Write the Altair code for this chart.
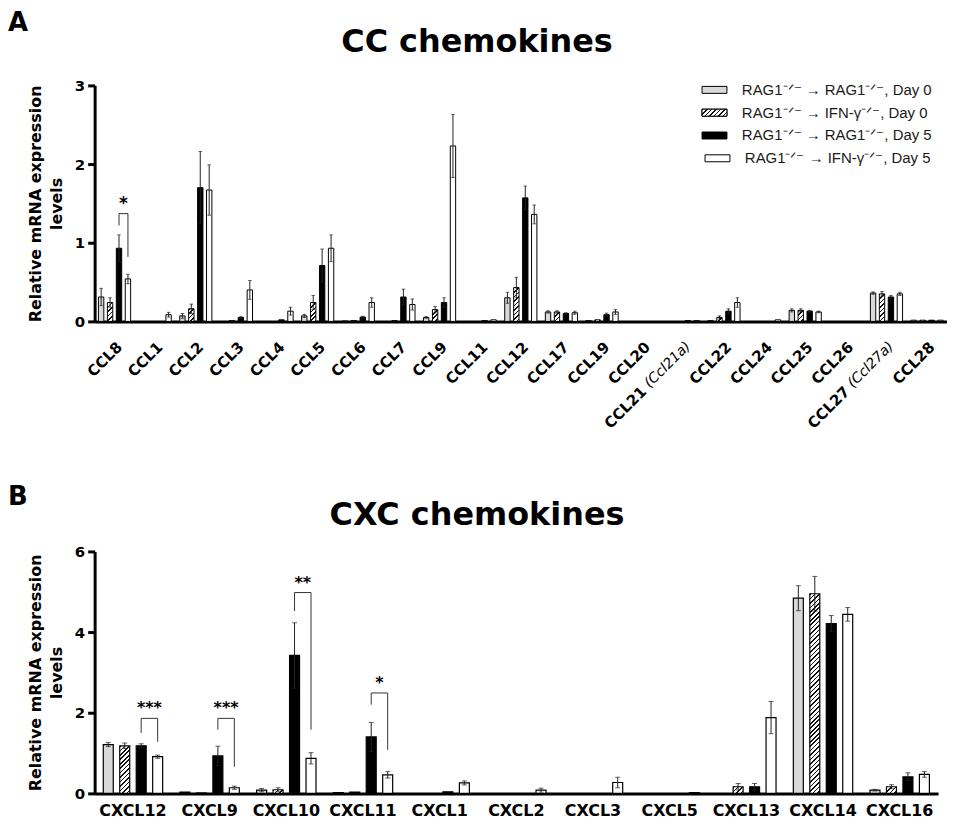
import altair as alt
import pandas as pd

# ---------------- data ----------------
series_labels = [
    "RAG1⁻ᐟ⁻ → RAG1⁻ᐟ⁻, Day 0",
    "RAG1⁻ᐟ⁻ → IFN-γ⁻ᐟ⁻, Day 0",
    "RAG1⁻ᐟ⁻ → RAG1⁻ᐟ⁻, Day 5",
    "RAG1⁻ᐟ⁻ → IFN-γ⁻ᐟ⁻, Day 5",
]

genes_A = ["CCL8", "CCL1", "CCL2", "CCL3", "CCL4", "CCL5", "CCL6", "CCL7", "CCL9",
           "CCL11", "CCL12", "CCL17", "CCL19", "CCL20", "CCL21 (Ccl21a)", "CCL22",
           "CCL24", "CCL25", "CCL26", "CCL27 (Ccl27a)", "CCL28"]
gray_A = [0.31, 0, 0.07, 0, 0, 0.07, 0.005, 0, 0.05, 0, 0.30, 0.12, 0.01, 0, 0, 0.01, 0, 0.14, 0, 0.36, 0.015]
hatch_A = [0.24, 0, 0.16, 0.01, 0, 0.24, 0.01, 0.01, 0.15, 0, 0.43, 0.12, 0.02, 0, 0, 0.05, 0, 0.14, 0, 0.35, 0.015]
black_A = [0.93, 0, 1.70, 0.05, 0.02, 0.71, 0.055, 0.31, 0.24, 0.01, 1.57, 0.10, 0.085, 0, 0.01, 0.13, 0, 0.13, 0, 0.31, 0.015]
white_A = [0.54, 0.085, 1.67, 0.40, 0.13, 0.93, 0.24, 0.215, 2.23, 0.02, 1.36, 0.11, 0.12, 0, 0.01, 0.24, 0.02, 0.12, 0, 0.35, 0.015]
gray_A_err = [0.11, 0, 0.03, 0, 0, 0.02, 0, 0, 0.01, 0, 0.07, 0.015, 0, 0, 0, 0, 0, 0.02, 0, 0.015, 0]
hatch_A_err = [0.06, 0, 0.06, 0, 0, 0.09, 0, 0, 0.04, 0, 0.13, 0.015, 0, 0, 0, 0.02, 0, 0.02, 0, 0.03, 0]
black_A_err = [0.17, 0, 0.46, 0.01, 0, 0.21, 0.01, 0.10, 0.06, 0, 0.15, 0.01, 0.02, 0, 0, 0.03, 0, 0.01, 0, 0.02, 0]
white_A_err = [0.06, 0.03, 0.32, 0.12, 0.05, 0.17, 0.06, 0.07, 0.40, 0, 0.12, 0.02, 0.03, 0, 0, 0.06, 0, 0.01, 0, 0.02, 0]

genes_B = ["CXCL12", "CXCL9", "CXCL10", "CXCL11", "CXCL1", "CXCL2", "CXCL3", "CXCL5",
           "CXCL13", "CXCL14", "CXCL16"]
gray_B = [1.21, 0.03, 0.08, 0.02, 0, 0, 0, 0, 0, 4.84, 0.08]
hatch_B = [1.18, 0.01, 0.09, 0.03, 0, 0, 0, 0, 0.165, 4.95, 0.165]
black_B = [1.18, 0.93, 3.42, 1.40, 0.04, 0, 0, 0, 0.165, 4.21, 0.41]
white_B = [0.91, 0.14, 0.87, 0.46, 0.26, 0.08, 0.27, 0.02, 1.88, 4.44, 0.47]
gray_B_err = [0.05, 0, 0.04, 0, 0, 0, 0, 0, 0, 0.31, 0.02]
hatch_B_err = [0.07, 0, 0.05, 0, 0, 0, 0, 0, 0.08, 0.43, 0.05]
black_B_err = [0.05, 0.24, 0.81, 0.36, 0, 0, 0, 0, 0.08, 0.20, 0.10]
white_B_err = [0.04, 0.04, 0.14, 0.08, 0.05, 0.05, 0.13, 0, 0.40, 0.17, 0.07]

# significance brackets: gene, bracket top, left-leg bottom (black bar), right-leg bottom (white bar)
brk_A_gene = ["CCL8"]
brk_A_top = [1.37]
brk_A_left = [1.22]
brk_A_right = [0.82]
brk_A_txt = ["*"]

brk_B_gene = ["CXCL12", "CXCL9", "CXCL10", "CXCL11"]
brk_B_top = [1.86, 1.86, 4.98, 2.49]
brk_B_left = [1.50, 1.58, 4.52, 2.20]
brk_B_right = [1.28, 0.66, 1.58, 1.08]
brk_B_txt = ["***", "***", "**", "*"]

FONT = "DejaVu Sans"
FILL_RANGE = ["#d9d9d9", "#ffffff", "#000000", "#ffffff"]


def long_df(genes, means, errs):
    rows = []
    for s, (m, e) in enumerate(zip(means, errs)):
        for g, mv, ev in zip(genes, m, e):
            rows.append(dict(gene=g, s=s, mean=mv, err=ev,
                             lo=max(mv - ev, 0.0), hi=mv + ev))
    return pd.DataFrame(rows)


def hatch(w, h, d=4.5, frac=0.35):
    w = max(w, 0.5)
    h = max(h, 0.5)
    n = (w + h) / d
    stops = [{"offset": 0, "color": "#ffffff"}]
    k = 0
    while True:
        a = k / n
        if a >= 1:
            break
        b = min((k + frac) / n, 1)
        stops += [{"offset": round(a, 5), "color": "#ffffff"},
                  {"offset": round(a, 5), "color": "#111111"},
                  {"offset": round(b, 5), "color": "#111111"},
                  {"offset": round(b, 5), "color": "#ffffff"}]
        k += 1
    stops.append({"offset": 1, "color": "#ffffff"})
    s2 = w * w + h * h
    return {"gradient": "linear", "x1": 0, "y1": 0,
            "x2": round((w + h) * w / s2, 5), "y2": round((w + h) * h / s2, 5),
            "stops": stops}


def brackets_df(gene, top, left, right):
    rows = []
    for i, (g, t, l, r) in enumerate(zip(gene, top, left, right)):
        rows += [dict(bid=i, gene=g, s=2, v=l, o=0), dict(bid=i, gene=g, s=2, v=t, o=1),
                 dict(bid=i, gene=g, s=3, v=t, o=2), dict(bid=i, gene=g, s=3, v=r, o=3)]
    return pd.DataFrame(rows)


def panel(genes, df, W, H, ymax, yvals, pi, po, pi2, po2, cap, stroke_w,
          xaxis, title, letter, title_y, letter_y, brk, brk_txt, star_size,
          italic=None, legend=False):
    n = len(genes)
    step = W / (n - pi + 2 * po)
    band = step * (1 - pi)
    sub = band / (4 - pi2 + 2 * po2)
    barw = sub * (1 - pi2)

    xsc = alt.Scale(domain=genes, paddingInner=pi, paddingOuter=po)
    ysc = alt.Scale(domain=[0, ymax], nice=False, zero=True)
    yaxis = alt.Axis(values=yvals, format="d", grid=False, domainWidth=3, domainColor="black",
                     tickWidth=3, tickSize=7, tickColor="black", labelFont=FONT,
                     labelFontWeight="bold", labelFontSize=15, labelColor="black",
                     labelPadding=3, title=["Relative mRNA expression", "levels"],
                     titleFont=FONT, titleFontWeight="bold", titleFontSize=16,
                     titleColor="black", titlePadding=10, titleLineHeight=21)

    def X():
        return alt.X("gene:N", scale=xsc, axis=xaxis, title=None)

    def Y(f):
        return alt.Y(f, type="quantitative", scale=ysc, axis=yaxis)

    xoff = alt.XOffset("s:N", scale=alt.Scale(domain=[0, 1, 2, 3], paddingInner=pi2,
                                              paddingOuter=po2))
    fill_sc = alt.Scale(domain=[0, 1, 2, 3], range=FILL_RANGE)

    d_bars = df[(df.s != 1) & (df["mean"] > 0)]
    bars = alt.Chart(d_bars).mark_bar(stroke="black", strokeWidth=stroke_w).encode(
        x=X(), xOffset=xoff, y=Y("mean"), fill=alt.Fill("s:N", scale=fill_sc, legend=None))

    d_h = df[(df.s == 1) & (df["mean"] > 0)]
    conds = []
    for g, m in zip(d_h.gene, d_h["mean"]):
        conds.append({"test": "datum.gene === '%s'" % g,
                      "value": hatch(barw, m * H / ymax)})
    hbars = alt.Chart(d_h).mark_bar(stroke="black", strokeWidth=stroke_w).encode(
        x=X(), xOffset=xoff, y=Y("mean"),
        fill=alt.FillValue(value="#ffffff", condition=conds))

    d_e = df[df.err > 0]
    rules = alt.Chart(d_e).mark_rule(color="#222222", strokeWidth=1).encode(
        x=X(), xOffset=xoff, y=Y("lo"), y2=alt.Y2("hi"))
    caps = alt.Chart(d_e).transform_fold(["lo", "hi"], as_=["k", "v"]).mark_tick(
        orient="horizontal", size=cap, thickness=1, color="#222222").encode(
        x=X(), xOffset=xoff, y=Y("v"))

    bdf = brackets_df(*brk)
    blines = alt.Chart(bdf).mark_line(color="#333333", strokeWidth=1).encode(
        x=X(), xOffset=xoff, y=Y("v"), detail="bid:N", order="o:Q")
    sdf = pd.DataFrame({"gene": brk[0], "top": brk[1], "txt": brk_txt, "s": 2})
    stars = alt.Chart(sdf).mark_text(font=FONT, fontWeight="bold", fontSize=star_size,
                                     align="center", baseline="alphabetic", dx=sub / 2, dy=-5,
                                     color="black").encode(
        x=X(), xOffset=xoff, y=Y("top"), text="txt:N")

    tdf = pd.DataFrame({"t": [title]})
    ttl = alt.Chart(tdf).mark_text(font=FONT, fontWeight="bold", fontSize=32, align="center",
                                   baseline="alphabetic", color="black").encode(
        x=alt.value(384), y=alt.value(title_y), text="t:N")
    ldf = pd.DataFrame({"t": [letter]})
    let = alt.Chart(ldf).mark_text(font=FONT, fontWeight="bold", fontSize=26, align="left",
                                   baseline="alphabetic", color="black").encode(
        x=alt.value(-87), y=alt.value(letter_y), text="t:N")

    layers = [bars, hbars, rules, caps, blines, stars, ttl, let]

    if italic is not None:
        idf = pd.DataFrame({"gene": [g for g in genes if "(" in g]})
        idf["part"] = [g[g.index("("):] for g in idf.gene]
        ital = alt.Chart(idf).mark_text(font=FONT, fontStyle="italic", fontSize=14, angle=315,
                                        align="right", baseline="top", color="black").encode(
            x=X(), y=alt.value(H + italic), text="part:N")
        layers.append(ital)

    if legend:
        leg = pd.DataFrame({"label": series_labels, "s": [0, 1, 2, 3]})
        base = alt.Chart(leg).transform_calculate(
            lx="datum.s == 3 ? 613 : 610", ly="4.5 + datum.s * 22.9"
        ).transform_calculate(lx2="datum.lx + 25", ly0="datum.ly - 3.5",
                              ly1="datum.ly + 3.5", tx="datum.lx + 40")
        lr = base.mark_rect(stroke="black", strokeWidth=1).encode(
            x=alt.X("lx:Q", scale=None), x2="lx2:Q", y=alt.Y("ly0:Q", scale=None), y2="ly1:Q",
            fill=alt.Fill("s:N", scale=fill_sc, legend=None))
        lh = base.transform_filter("datum.s == 1").mark_rect(stroke="black", strokeWidth=1).encode(
            x=alt.X("lx:Q", scale=None), x2="lx2:Q", y=alt.Y("ly0:Q", scale=None), y2="ly1:Q",
            fill=alt.value(hatch(25, 7)))
        lt = base.mark_text(font="Liberation Sans", fontSize=15, align="left", baseline="middle",
                            color="#1a1a1a").encode(
            x=alt.X("tx:Q", scale=None), y=alt.Y("ly:Q", scale=None), text="label:N")
        layers += [lr, lh, lt]

    return alt.layer(*layers).properties(width=W, height=H)


dfA = long_df(genes_A, [gray_A, hatch_A, black_A, white_A],
              [gray_A_err, hatch_A_err, black_A_err, white_A_err])
dfB = long_df(genes_B, [gray_B, hatch_B, black_B, white_B],
              [gray_B_err, hatch_B_err, black_B_err, white_B_err])

P0 = 18
SHIFT = 44.5
special = "indexof(datum.value, '(') >= 0"
xaxisA = alt.Axis(labelAngle=-45, labelAlign="right", labelBaseline="top", labelFont=FONT,
                  labelFontWeight="bold", labelFontSize=15, labelColor="black",
                  labelPadding={"condition": {"test": special, "value": P0 + SHIFT}, "value": P0},
                  labelOffset={"condition": {"test": special, "value": -SHIFT}, "value": 0},
                  labelExpr="split(datum.label, ' (')[0]", ticks=False, domainWidth=3,
                  domainColor="black", title=None, labelOverlap=False, labelBound=False,
                  grid=False)
xaxisB = alt.Axis(labelAngle=0, labelFont=FONT, labelFontWeight="bold", labelFontSize=16,
                  labelColor="black", labelPadding=9, ticks=False, domainWidth=3,
                  domainColor="black", title=None, labelOverlap=False, grid=False)

chartA = panel(genes_A, dfA, 856, 237, 3, [0, 1, 2, 3], 0.12, 0.05, 0.4, 0.2, 3.5, 1,
               xaxisA, "CC chemokines", "A", -34, -55,
               (brk_A_gene, brk_A_top, brk_A_left, brk_A_right), brk_A_txt, 17,
               italic=P0, legend=True)
chartB = panel(genes_B, dfB, 847, 243, 6, [0, 2, 4, 6], 0.2, 0.1, 0.394, 0.06, 5, 1.2,
               xaxisB, "CXC chemokines", "B", -27, -47,
               (brk_B_gene, brk_B_top, brk_B_left, brk_B_right), brk_B_txt, 16)

chart = alt.vconcat(chartA, chartB, spacing=231, bounds="flush").properties(
    padding=0).resolve_scale(x="independent", y="independent", xOffset="independent",
                             fill="independent").configure(font=FONT).configure_view(stroke=None)

chart.save("out.html", embed_options={"renderer": "svg", "actions": False})
